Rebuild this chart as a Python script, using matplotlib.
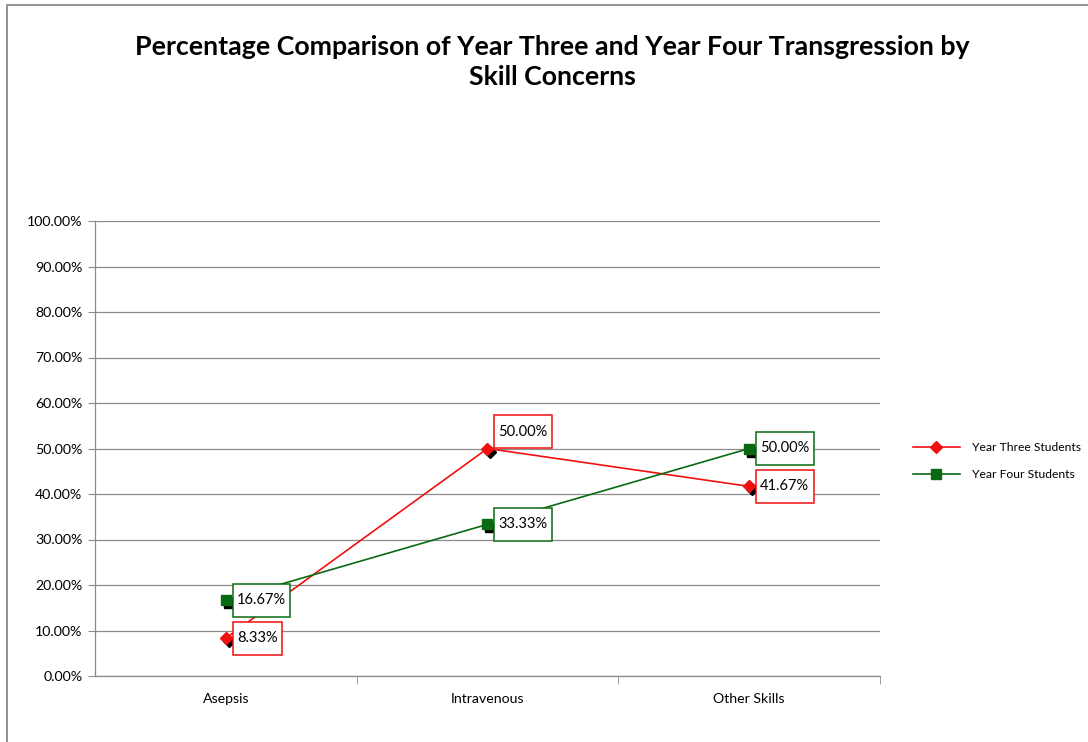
import matplotlib
matplotlib.use("Agg")
import matplotlib.pyplot as plt
import matplotlib.patches as patches
from matplotlib.path import Path
from matplotlib.transforms import offset_copy

plt.rcParams['font.family'] = ['Lato', 'DejaVu Sans']

categories = ['Asepsis', 'Intravenous', 'Other Skills']
year_three = [8.33, 50.00, 41.67]
year_four = [16.67, 33.33, 50.00]
series_names = ['Year Three Students', 'Year Four Students']

red = '#f01010'
green = '#0a6a14'
grid_col = '#8c8c8c'

fig = plt.figure(figsize=(10.88, 7.42), dpi=100)
ax = fig.add_axes([95/1088, 1 - 676/742, 785/1088, 455/742])

x = list(range(len(categories)))

# black shadows behind markers
shadow = offset_copy(ax.transData, fig=fig, x=3, y=-3, units='dots')
ax.plot(x, year_three, linestyle='none', marker='D', markersize=6, color='black', transform=shadow, zorder=3)
ax.plot(x, year_four, linestyle='none', marker='s', markersize=7, color='black', transform=shadow, zorder=3)

l1, = ax.plot(x, year_three, color=red, lw=1.2, marker='D', markersize=6,
              markeredgecolor=red, zorder=4, label=series_names[0])
l2, = ax.plot(x, year_four, color=green, lw=1.2, marker='s', markersize=7,
              markeredgecolor=green, zorder=4, label=series_names[1])


def tallbox(x0, y0, width, height, mutation_size):
    # label box: little side padding, more on top and bottom
    px = 0.3 * mutation_size
    py = 0.65 * mutation_size
    a, b = x0 - px, y0 - py
    c, d = x0 + width + px, y0 + height + py
    return Path([(a, b), (c, b), (c, d), (a, d), (a, b)], closed=True)


def label(xi, yi, col, dy=0):
    ax.annotate('%.2f%%' % yi, (xi, yi), xytext=(8, dy), textcoords='offset points',
                ha='left', va='center', fontsize=10.5, color='black', zorder=6,
                bbox=dict(boxstyle=tallbox, fc='white', ec=col, lw=1.1))


for i in x:
    label(i, year_three[i], red, 12 if i == 1 else 0)
    label(i, year_four[i], green)

ax.set_xlim(-0.5, 2.5)
ax.set_ylim(0, 100)
ax.set_yticks(range(0, 101, 10))
ax.set_yticklabels(['%.2f%%' % v for v in range(0, 101, 10)], fontsize=10.2)
ax.set_xticks(x)
ax.set_xticklabels(categories, fontsize=10.2)
ax.set_xticks([0.5, 1.5, 2.5], minor=True)
ax.tick_params(axis='x', which='major', length=0, pad=12)
ax.tick_params(axis='x', which='minor', length=6, color=grid_col, direction='out')
ax.tick_params(axis='y', length=5, color=grid_col, direction='out', pad=4)
ax.yaxis.grid(True, color=grid_col, lw=0.9)
ax.set_axisbelow(True)
for s in ['top', 'right']:
    ax.spines[s].set_visible(False)
for s in ['left', 'bottom']:
    ax.spines[s].set_color(grid_col)
    ax.spines[s].set_linewidth(0.9)

fig.text(552/1088, 1 - 62/742,
         'Percentage Comparison of Year Three and Year Four Transgression by\nSkill Concerns',
         ha='center', va='center', fontsize=19.3, fontweight='bold', linespacing=1.3)

fig.legend(handles=[l1, l2], loc='center left', bbox_to_anchor=(902/1088, 1 - 461/742),
           frameon=False, fontsize=8.7, handlelength=3.9, labelspacing=1.35, handletextpad=1.0)

# outer chart border
fig.add_artist(patches.Rectangle((7/1088, -0.1), 1.2, 1 - 5/742 + 0.1, transform=fig.transFigure,
                                 fill=False, ec='#8a8a8a', lw=1.3, clip_on=False))

fig.savefig('out.png', dpi=100)
